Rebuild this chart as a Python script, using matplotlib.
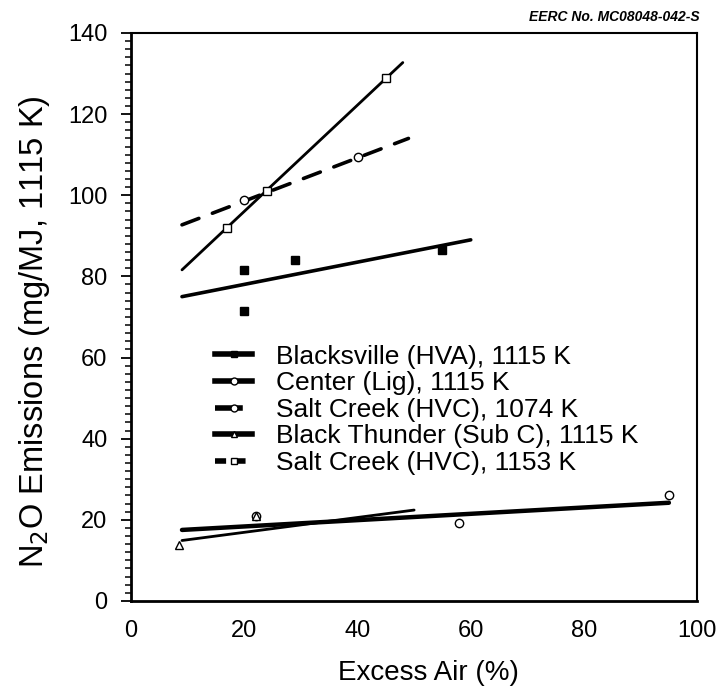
import matplotlib.pyplot as plt
from matplotlib.ticker import MultipleLocator

plt.rcParams['font.family'] = ['Liberation Sans', 'DejaVu Sans']

labels = ['Blacksville (HVA), 1115 K', 'Center (Lig), 1115 K',
          'Salt Creek (HVC), 1074 K', 'Black Thunder (Sub C), 1115 K',
          'Salt Creek (HVC), 1153 K']

# measured points
pts_x = [[20, 20, 29, 55], [22, 58, 95], [20, 40], [8.5, 22], [17, 24, 45]]
pts_y = [[81.6, 71.5, 84, 86.5], [20.9, 19.1, 26.0], [98.8, 109.5], [13.8, 20.9], [92, 101, 128.8]]

# fitted lines (end points)
fit_x = [[9, 60], [9, 95], [9, 49], [9, 50], [9, 48]]
fit_y = [[75, 89], [17.5, 24.2], [92.7, 114], [14.9, 22.4], [81.6, 132.7]]

markers = ['s', 'o', 'o', '^', 's']
filled = [True, False, False, False, False]
styles = ['-', '-', (0, (5, 4)), '-', '-']
widths = [2.6, 3.2, 2.6, 2.0, 2.0]

fig = plt.figure(figsize=(7.24, 6.86), dpi=100)
ax = fig.add_axes([0.181, 0.124, 0.782, 0.828])

for i in range(5):
    ax.plot(fit_x[i], fit_y[i], color='black', lw=widths[i], ls=styles[i],
            solid_capstyle='round', dash_capstyle='round')
    ax.plot(pts_x[i], pts_y[i], ls='none', marker=markers[i], ms=6,
            mfc='black' if filled[i] else 'white', mec='black', mew=1)

handles = []
for i in range(5):
    h, = ax.plot([], [], color='black', lw=4, ls=styles[i] if i != 4 else (0, (2, 1.5)),
                 marker=markers[i], ms=5, mfc='black' if filled[i] else 'white',
                 mec='black', markevery=[0], label=labels[i])
    handles.append(h)

ax.legend(handles=handles, loc='upper left', bbox_to_anchor=(0.13, 0.47),
          frameon=False, fontsize=19, labelspacing=0.1, handlelength=1.4,
          handletextpad=0.9, borderaxespad=0)

ax.set_xlim(0, 100)
ax.set_ylim(0, 140)
ax.xaxis.set_major_locator(MultipleLocator(20))
ax.yaxis.set_major_locator(MultipleLocator(20))
ax.yaxis.set_minor_locator(MultipleLocator(2))
ax.tick_params(axis='y', which='major', direction='out', length=7, width=1.3, labelsize=17, pad=10)
ax.tick_params(axis='y', which='minor', direction='out', length=4, width=1.1)
ax.tick_params(axis='x', which='major', length=0, labelsize=17, pad=14)

for s in ['left', 'bottom']:
    ax.spines[s].set_linewidth(2.0)
for s in ['right', 'top']:
    ax.spines[s].set_linewidth(1.5)

ax.set_xlabel('Excess Air (%)', fontsize=20, va='center')
ax.xaxis.set_label_coords(0.525, -0.127)
ax.set_ylabel('N$_2$O Emissions (mg/MJ, 1115 K)', fontsize=23.5, va='center')
ax.yaxis.set_label_coords(-0.17, 0.474)

fig.text(0.967, 0.975, 'EERC No. MC08048-042-S', ha='right', va='center',
         fontsize=10, style='italic', weight='bold')

fig.savefig('out.png', dpi=100)
